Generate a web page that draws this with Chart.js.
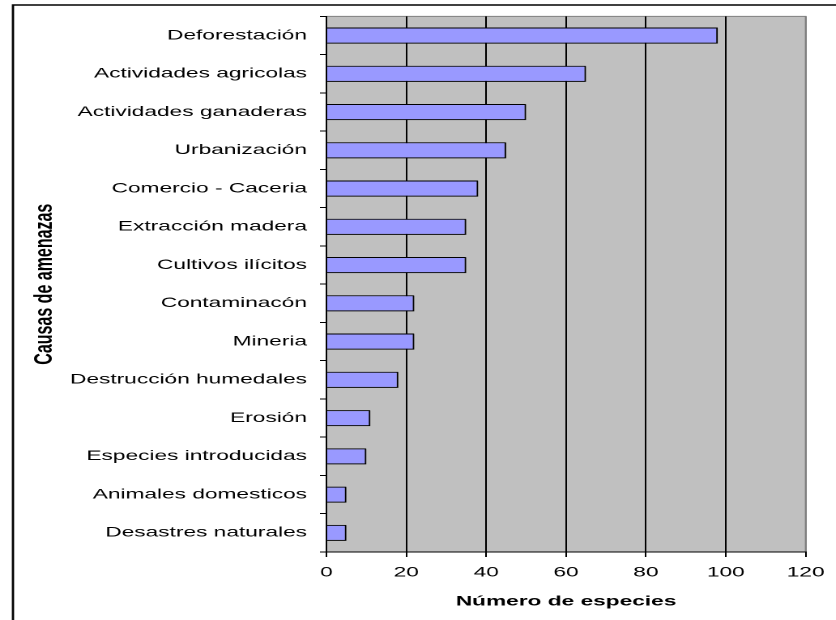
<!DOCTYPE html>
<html>
<head>
<meta charset="utf-8">
<script src="https://cdn.jsdelivr.net/npm/chart.js@4/dist/chart.umd.min.js"></script>
<style>
  html, body { margin: 0; padding: 0; background: #fff; }
  /* the reference is a horizontally stretched Excel chart, so stretch the canvas the same way */
  #wrap { width: 516px; height: 620px; transform: scaleX(1.62); transform-origin: 0 0; }
</style>
</head>
<body>
<div id="wrap"><canvas id="chart" width="516" height="620"></canvas></div>
<script>
// Data
const categories = [
  'Deforestación', 'Actividades agricolas', 'Actividades ganaderas', 'Urbanización',
  'Comercio - Caceria', 'Extracción madera', 'Cultivos ilícitos', 'Contaminacón',
  'Mineria', 'Destrucción humedales', 'Erosión', 'Especies introducidas',
  'Animales domesticos', 'Desastres naturales'
];
const speciesCount = [98, 65, 50, 45, 38, 35, 35, 22, 22, 18, 11, 10, 5, 5];
const xMin = 0;
const xMax = 120;
const xStep = 20;
const xTitle = 'Número de especies';
const yTitle = 'Causas de amenazas';

// Gray plot area, its gray top/right border and the outer frame
const chartFrame = {
  id: 'chartFrame',
  beforeDraw(chart) {
    const { ctx, chartArea: a } = chart;
    ctx.save();
    ctx.fillStyle = '#c0c0c0';
    ctx.fillRect(a.left, a.top, a.right - a.left, a.bottom - a.top);
    ctx.strokeStyle = '#808080';
    ctx.lineWidth = 1;
    ctx.beginPath();
    ctx.moveTo(a.left, a.top);
    ctx.lineTo(a.right, a.top);
    ctx.lineTo(a.right, a.bottom);
    ctx.stroke();
    ctx.strokeStyle = '#000';
    ctx.lineWidth = 1.4;
    ctx.beginPath();
    ctx.moveTo(chart.width, 5);
    ctx.lineTo(8, 5);
    ctx.lineTo(8, chart.height);
    ctx.stroke();
    ctx.restore();
  }
};

// Small drop shadow under the bars
const barShadow = {
  id: 'barShadow',
  beforeDatasetsDraw(chart) {
    const ctx = chart.ctx;
    ctx.save();
    ctx.shadowColor = 'rgba(0,0,0,0.35)';
    ctx.shadowOffsetX = 1;
    ctx.shadowOffsetY = 1.5;
  },
  afterDatasetsDraw(chart) {
    chart.ctx.restore();
  }
};

const tickFont = { family: '"Liberation Sans", Arial, sans-serif', size: 14 };

new Chart(document.getElementById('chart'), {
  type: 'bar',
  data: {
    labels: categories,
    datasets: [{
      data: speciesCount,
      backgroundColor: '#9999ff',
      borderColor: '#000',
      borderWidth: 1,
      barPercentage: 0.42,
      categoryPercentage: 1
    }]
  },
  options: {
    indexAxis: 'y',
    responsive: false,
    animation: false,
    devicePixelRatio: 2,
    layout: { padding: { left: 8, top: 13, right: 14.5, bottom: 0 } },
    plugins: {
      legend: { display: false },
      tooltip: { enabled: false }
    },
    scales: {
      x: {
        min: xMin,
        max: xMax,
        afterFit: scale => { scale.height = 68; },
        ticks: { stepSize: xStep, color: '#000', font: tickFont, padding: 7 },
        grid: {
          color: c => (c.tick && c.tick.value === xMax ? '#808080' : '#000'),
          tickColor: '#000',
          tickLength: 5,
          lineWidth: 1
        },
        border: { color: '#000', width: 1 },
        title: {
          display: true,
          text: xTitle,
          color: '#000',
          font: { family: '"Liberation Sans", Arial, sans-serif', size: 14, weight: 'bold' },
          padding: { top: 0, bottom: 10 }
        }
      },
      y: {
        afterFit: scale => { scale.width = 193.5; },
        ticks: { color: '#000', font: tickFont, padding: 8 },
        grid: {
          drawOnChartArea: false,
          drawTicks: true,
          tickLength: 4,
          color: '#000'
        },
        border: { color: '#000', width: 1 },
        title: {
          display: true,
          text: yTitle,
          color: '#000',
          font: { family: '"Liberation Sans", Arial, sans-serif', size: 16, weight: 'bold' },
          padding: { top: 10, bottom: 0 }
        }
      }
    }
  },
  plugins: [chartFrame, barShadow]
});
</script>
</body>
</html>
